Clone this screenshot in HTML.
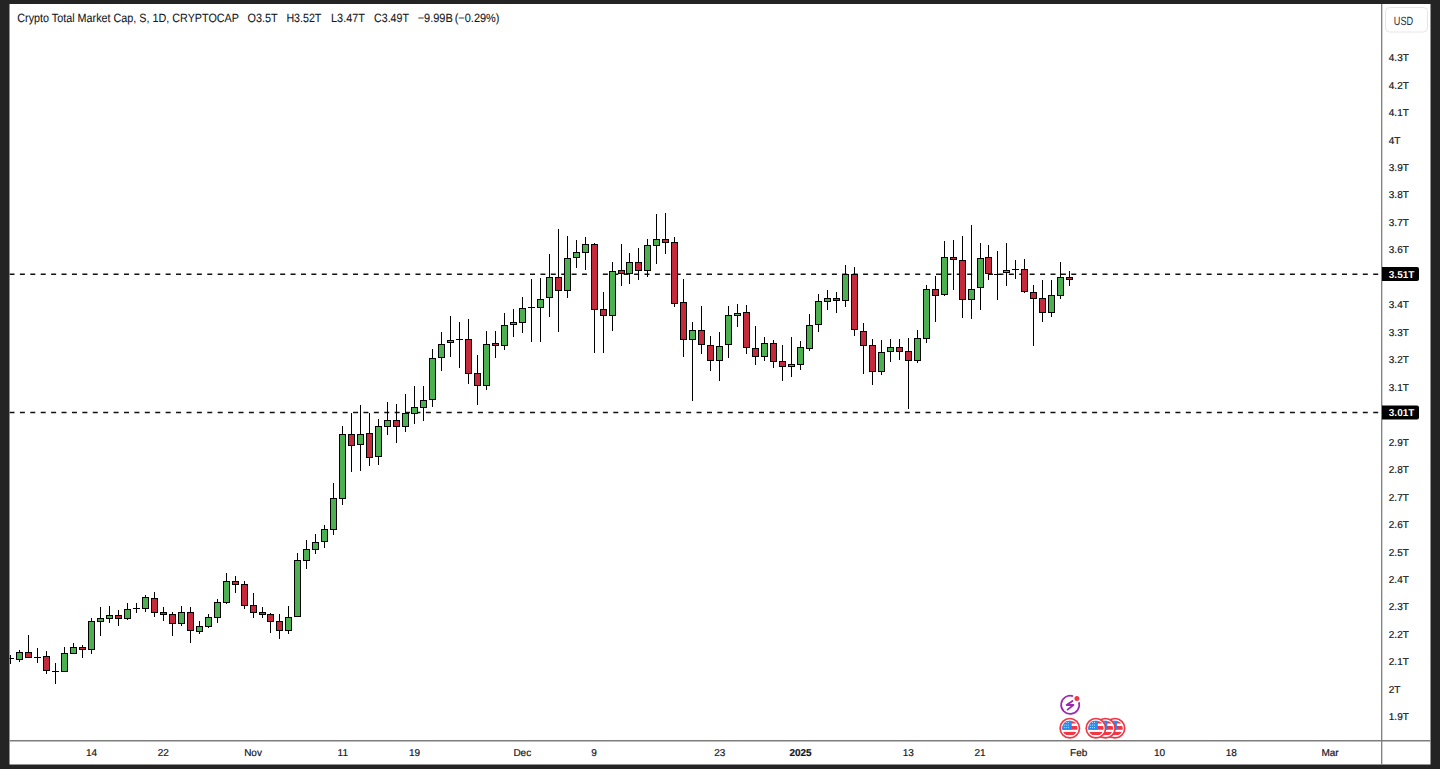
<!DOCTYPE html>
<html><head><meta charset="utf-8"><title>Crypto Total Market Cap</title>
<style>html,body{margin:0;padding:0;background:#242424;width:1440px;height:769px;overflow:hidden}svg{display:block}</style>
</head><body>
<svg width="1440" height="769" viewBox="0 0 1440 769" style="text-rendering:geometricPrecision"><rect x="0" y="0" width="1440" height="769" fill="#242424"/>
<rect x="9.5" y="4" width="1421" height="760.5" fill="#fff"/>
<clipPath id="cp"><rect x="9.5" y="4" width="1372" height="736"/></clipPath>
<g clip-path="url(#cp)">
<line x1="9.49" y1="274.25" x2="1381" y2="274.25" stroke="#111" stroke-width="1.5" stroke-dasharray="5 5.41"/>
<line x1="9.49" y1="412.5" x2="1381" y2="412.5" stroke="#111" stroke-width="1.5" stroke-dasharray="5 5.41"/>
<line x1="10.5" y1="655" x2="10.5" y2="664" stroke="#000" stroke-width="1"/>
<rect x="7.0" y="658" width="7" height="1" fill="#000"/>
<line x1="19.5" y1="650" x2="19.5" y2="662" stroke="#000" stroke-width="1"/>
<rect x="16.0" y="652" width="7" height="8" fill="#000"/>
<rect x="17.0" y="653" width="5" height="6" fill="#4caf50"/>
<line x1="28.5" y1="635" x2="28.5" y2="658" stroke="#000" stroke-width="1"/>
<rect x="25.0" y="652" width="7" height="6" fill="#000"/>
<rect x="26.0" y="653" width="5" height="4" fill="#c42a3b"/>
<line x1="37.5" y1="648" x2="37.5" y2="663" stroke="#000" stroke-width="1"/>
<rect x="34.0" y="657" width="7" height="1" fill="#000"/>
<line x1="46.5" y1="651" x2="46.5" y2="674" stroke="#000" stroke-width="1"/>
<rect x="43.0" y="656" width="7" height="15" fill="#000"/>
<rect x="44.0" y="657" width="5" height="13" fill="#c42a3b"/>
<line x1="55.5" y1="663" x2="55.5" y2="684" stroke="#000" stroke-width="1"/>
<rect x="52.0" y="671" width="7" height="1" fill="#000"/>
<line x1="64.5" y1="647" x2="64.5" y2="672" stroke="#000" stroke-width="1"/>
<rect x="61.0" y="653" width="7" height="19" fill="#000"/>
<rect x="62.0" y="654" width="5" height="17" fill="#4caf50"/>
<line x1="73.5" y1="643" x2="73.5" y2="654" stroke="#000" stroke-width="1"/>
<rect x="70.0" y="647" width="7" height="7" fill="#000"/>
<rect x="71.0" y="648" width="5" height="5" fill="#4caf50"/>
<line x1="82.5" y1="645" x2="82.5" y2="658" stroke="#000" stroke-width="1"/>
<rect x="79.0" y="647" width="7" height="3" fill="#000"/>
<rect x="80.0" y="648" width="5" height="1" fill="#c42a3b"/>
<line x1="91.5" y1="618" x2="91.5" y2="654" stroke="#000" stroke-width="1"/>
<rect x="88.0" y="621" width="7" height="29" fill="#000"/>
<rect x="89.0" y="622" width="5" height="27" fill="#4caf50"/>
<line x1="100.5" y1="607" x2="100.5" y2="636" stroke="#000" stroke-width="1"/>
<rect x="97.0" y="618" width="7" height="4" fill="#000"/>
<rect x="98.0" y="619" width="5" height="2" fill="#4caf50"/>
<line x1="109.5" y1="606" x2="109.5" y2="623" stroke="#000" stroke-width="1"/>
<rect x="106.0" y="615" width="7" height="4" fill="#000"/>
<rect x="107.0" y="616" width="5" height="2" fill="#4caf50"/>
<line x1="118.5" y1="610" x2="118.5" y2="626" stroke="#000" stroke-width="1"/>
<rect x="115.0" y="615" width="7" height="4" fill="#000"/>
<rect x="116.0" y="616" width="5" height="2" fill="#c42a3b"/>
<line x1="127.5" y1="603" x2="127.5" y2="620" stroke="#000" stroke-width="1"/>
<rect x="124.0" y="609" width="7" height="10" fill="#000"/>
<rect x="125.0" y="610" width="5" height="8" fill="#4caf50"/>
<line x1="136.5" y1="603" x2="136.5" y2="613" stroke="#000" stroke-width="1"/>
<rect x="133.0" y="608" width="7" height="1" fill="#000"/>
<line x1="145.5" y1="595" x2="145.5" y2="612" stroke="#000" stroke-width="1"/>
<rect x="142.0" y="597" width="7" height="12" fill="#000"/>
<rect x="143.0" y="598" width="5" height="10" fill="#4caf50"/>
<line x1="154.5" y1="592" x2="154.5" y2="617" stroke="#000" stroke-width="1"/>
<rect x="151.0" y="598" width="7" height="15" fill="#000"/>
<rect x="152.0" y="599" width="5" height="13" fill="#c42a3b"/>
<line x1="163.5" y1="607" x2="163.5" y2="621" stroke="#000" stroke-width="1"/>
<rect x="160.0" y="612" width="7" height="3" fill="#000"/>
<rect x="161.0" y="613" width="5" height="1" fill="#c42a3b"/>
<line x1="172.5" y1="612" x2="172.5" y2="636" stroke="#000" stroke-width="1"/>
<rect x="169.0" y="614" width="7" height="10" fill="#000"/>
<rect x="170.0" y="615" width="5" height="8" fill="#c42a3b"/>
<line x1="181.5" y1="606" x2="181.5" y2="626" stroke="#000" stroke-width="1"/>
<rect x="178.0" y="612" width="7" height="12" fill="#000"/>
<rect x="179.0" y="613" width="5" height="10" fill="#4caf50"/>
<line x1="190.5" y1="607" x2="190.5" y2="643" stroke="#000" stroke-width="1"/>
<rect x="187.0" y="612" width="7" height="19" fill="#000"/>
<rect x="188.0" y="613" width="5" height="17" fill="#c42a3b"/>
<line x1="199.5" y1="621" x2="199.5" y2="634" stroke="#000" stroke-width="1"/>
<rect x="196.0" y="626" width="7" height="6" fill="#000"/>
<rect x="197.0" y="627" width="5" height="4" fill="#4caf50"/>
<line x1="208.5" y1="614" x2="208.5" y2="628" stroke="#000" stroke-width="1"/>
<rect x="205.0" y="617" width="7" height="10" fill="#000"/>
<rect x="206.0" y="618" width="5" height="8" fill="#4caf50"/>
<line x1="217.5" y1="599" x2="217.5" y2="623" stroke="#000" stroke-width="1"/>
<rect x="214.0" y="602" width="7" height="16" fill="#000"/>
<rect x="215.0" y="603" width="5" height="14" fill="#4caf50"/>
<line x1="226.5" y1="573" x2="226.5" y2="604" stroke="#000" stroke-width="1"/>
<rect x="223.0" y="581" width="7" height="22" fill="#000"/>
<rect x="224.0" y="582" width="5" height="20" fill="#4caf50"/>
<line x1="235.5" y1="576" x2="235.5" y2="593" stroke="#000" stroke-width="1"/>
<rect x="232.0" y="581" width="7" height="4" fill="#000"/>
<rect x="233.0" y="582" width="5" height="2" fill="#c42a3b"/>
<line x1="244.5" y1="581" x2="244.5" y2="609" stroke="#000" stroke-width="1"/>
<rect x="241.0" y="584" width="7" height="22" fill="#000"/>
<rect x="242.0" y="585" width="5" height="20" fill="#c42a3b"/>
<line x1="253.5" y1="593" x2="253.5" y2="618" stroke="#000" stroke-width="1"/>
<rect x="250.0" y="605" width="7" height="8" fill="#000"/>
<rect x="251.0" y="606" width="5" height="6" fill="#c42a3b"/>
<line x1="262.5" y1="607" x2="262.5" y2="618" stroke="#000" stroke-width="1"/>
<rect x="259.0" y="612" width="7" height="3" fill="#000"/>
<rect x="260.0" y="613" width="5" height="1" fill="#c42a3b"/>
<line x1="270.5" y1="613" x2="270.5" y2="633" stroke="#000" stroke-width="1"/>
<rect x="267.0" y="614" width="7" height="8" fill="#000"/>
<rect x="268.0" y="615" width="5" height="6" fill="#c42a3b"/>
<line x1="279.5" y1="614" x2="279.5" y2="639" stroke="#000" stroke-width="1"/>
<rect x="276.0" y="621" width="7" height="10" fill="#000"/>
<rect x="277.0" y="622" width="5" height="8" fill="#c42a3b"/>
<line x1="288.5" y1="606" x2="288.5" y2="634" stroke="#000" stroke-width="1"/>
<rect x="285.0" y="617" width="7" height="14" fill="#000"/>
<rect x="286.0" y="618" width="5" height="12" fill="#4caf50"/>
<line x1="297.5" y1="553" x2="297.5" y2="617" stroke="#000" stroke-width="1"/>
<rect x="294.0" y="560" width="7" height="57" fill="#000"/>
<rect x="295.0" y="561" width="5" height="55" fill="#4caf50"/>
<line x1="306.5" y1="540" x2="306.5" y2="569" stroke="#000" stroke-width="1"/>
<rect x="303.0" y="549" width="7" height="12" fill="#000"/>
<rect x="304.0" y="550" width="5" height="10" fill="#4caf50"/>
<line x1="315.5" y1="534" x2="315.5" y2="554" stroke="#000" stroke-width="1"/>
<rect x="312.0" y="542" width="7" height="8" fill="#000"/>
<rect x="313.0" y="543" width="5" height="6" fill="#4caf50"/>
<line x1="324.5" y1="525" x2="324.5" y2="548" stroke="#000" stroke-width="1"/>
<rect x="321.0" y="529" width="7" height="13" fill="#000"/>
<rect x="322.0" y="530" width="5" height="11" fill="#4caf50"/>
<line x1="333.5" y1="483" x2="333.5" y2="535" stroke="#000" stroke-width="1"/>
<rect x="330.0" y="498" width="7" height="32" fill="#000"/>
<rect x="331.0" y="499" width="5" height="30" fill="#4caf50"/>
<line x1="342.5" y1="426" x2="342.5" y2="505" stroke="#000" stroke-width="1"/>
<rect x="339.0" y="434" width="7" height="65" fill="#000"/>
<rect x="340.0" y="435" width="5" height="63" fill="#4caf50"/>
<line x1="351.5" y1="413" x2="351.5" y2="472" stroke="#000" stroke-width="1"/>
<rect x="348.0" y="434" width="7" height="12" fill="#000"/>
<rect x="349.0" y="435" width="5" height="10" fill="#c42a3b"/>
<line x1="360.5" y1="405" x2="360.5" y2="471" stroke="#000" stroke-width="1"/>
<rect x="357.0" y="434" width="7" height="11" fill="#000"/>
<rect x="358.0" y="435" width="5" height="9" fill="#4caf50"/>
<line x1="369.5" y1="413" x2="369.5" y2="466" stroke="#000" stroke-width="1"/>
<rect x="366.0" y="433" width="7" height="25" fill="#000"/>
<rect x="367.0" y="434" width="5" height="23" fill="#c42a3b"/>
<line x1="378.5" y1="419" x2="378.5" y2="465" stroke="#000" stroke-width="1"/>
<rect x="375.0" y="426" width="7" height="31" fill="#000"/>
<rect x="376.0" y="427" width="5" height="29" fill="#4caf50"/>
<line x1="387.5" y1="402" x2="387.5" y2="435" stroke="#000" stroke-width="1"/>
<rect x="384.0" y="420" width="7" height="7" fill="#000"/>
<rect x="385.0" y="421" width="5" height="5" fill="#4caf50"/>
<line x1="396.5" y1="404" x2="396.5" y2="443" stroke="#000" stroke-width="1"/>
<rect x="393.0" y="420" width="7" height="7" fill="#000"/>
<rect x="394.0" y="421" width="5" height="5" fill="#c42a3b"/>
<line x1="405.5" y1="394" x2="405.5" y2="432" stroke="#000" stroke-width="1"/>
<rect x="402.0" y="413" width="7" height="14" fill="#000"/>
<rect x="403.0" y="414" width="5" height="12" fill="#4caf50"/>
<line x1="414.5" y1="386" x2="414.5" y2="424" stroke="#000" stroke-width="1"/>
<rect x="411.0" y="407" width="7" height="7" fill="#000"/>
<rect x="412.0" y="408" width="5" height="5" fill="#4caf50"/>
<line x1="423.5" y1="386" x2="423.5" y2="421" stroke="#000" stroke-width="1"/>
<rect x="420.0" y="400" width="7" height="8" fill="#000"/>
<rect x="421.0" y="401" width="5" height="6" fill="#4caf50"/>
<line x1="432.5" y1="349" x2="432.5" y2="407" stroke="#000" stroke-width="1"/>
<rect x="429.0" y="358" width="7" height="42" fill="#000"/>
<rect x="430.0" y="359" width="5" height="40" fill="#4caf50"/>
<line x1="441.5" y1="332" x2="441.5" y2="371" stroke="#000" stroke-width="1"/>
<rect x="438.0" y="344" width="7" height="14" fill="#000"/>
<rect x="439.0" y="345" width="5" height="12" fill="#4caf50"/>
<line x1="450.5" y1="316" x2="450.5" y2="357" stroke="#000" stroke-width="1"/>
<rect x="447.0" y="340" width="7" height="3" fill="#000"/>
<rect x="448.0" y="341" width="5" height="1" fill="#4caf50"/>
<line x1="459.5" y1="322" x2="459.5" y2="368" stroke="#000" stroke-width="1"/>
<rect x="456.0" y="339" width="7" height="1" fill="#000"/>
<line x1="468.5" y1="319" x2="468.5" y2="384" stroke="#000" stroke-width="1"/>
<rect x="465.0" y="339" width="7" height="35" fill="#000"/>
<rect x="466.0" y="340" width="5" height="33" fill="#c42a3b"/>
<line x1="477.5" y1="355" x2="477.5" y2="405" stroke="#000" stroke-width="1"/>
<rect x="474.0" y="373" width="7" height="13" fill="#000"/>
<rect x="475.0" y="374" width="5" height="11" fill="#c42a3b"/>
<line x1="486.5" y1="331" x2="486.5" y2="390" stroke="#000" stroke-width="1"/>
<rect x="483.0" y="344" width="7" height="42" fill="#000"/>
<rect x="484.0" y="345" width="5" height="40" fill="#4caf50"/>
<line x1="495.5" y1="331" x2="495.5" y2="358" stroke="#000" stroke-width="1"/>
<rect x="492.0" y="343" width="7" height="3" fill="#000"/>
<rect x="493.0" y="344" width="5" height="1" fill="#c42a3b"/>
<line x1="504.5" y1="313" x2="504.5" y2="350" stroke="#000" stroke-width="1"/>
<rect x="501.0" y="325" width="7" height="21" fill="#000"/>
<rect x="502.0" y="326" width="5" height="19" fill="#4caf50"/>
<line x1="513.5" y1="309" x2="513.5" y2="337" stroke="#000" stroke-width="1"/>
<rect x="510.0" y="322" width="7" height="3" fill="#000"/>
<rect x="511.0" y="323" width="5" height="1" fill="#4caf50"/>
<line x1="522.5" y1="297" x2="522.5" y2="333" stroke="#000" stroke-width="1"/>
<rect x="519.0" y="308" width="7" height="15" fill="#000"/>
<rect x="520.0" y="309" width="5" height="13" fill="#4caf50"/>
<line x1="531.5" y1="279" x2="531.5" y2="342" stroke="#000" stroke-width="1"/>
<rect x="528.0" y="307" width="7" height="1" fill="#000"/>
<line x1="540.5" y1="278" x2="540.5" y2="342" stroke="#000" stroke-width="1"/>
<rect x="537.0" y="299" width="7" height="9" fill="#000"/>
<rect x="538.0" y="300" width="5" height="7" fill="#4caf50"/>
<line x1="549.5" y1="254" x2="549.5" y2="317" stroke="#000" stroke-width="1"/>
<rect x="546.0" y="277" width="7" height="21" fill="#000"/>
<rect x="547.0" y="278" width="5" height="19" fill="#4caf50"/>
<line x1="558.5" y1="229" x2="558.5" y2="332" stroke="#000" stroke-width="1"/>
<rect x="555.0" y="277" width="7" height="14" fill="#000"/>
<rect x="556.0" y="278" width="5" height="12" fill="#c42a3b"/>
<line x1="567.5" y1="236" x2="567.5" y2="298" stroke="#000" stroke-width="1"/>
<rect x="564.0" y="258" width="7" height="33" fill="#000"/>
<rect x="565.0" y="259" width="5" height="31" fill="#4caf50"/>
<line x1="576.5" y1="240" x2="576.5" y2="268" stroke="#000" stroke-width="1"/>
<rect x="573.0" y="252" width="7" height="6" fill="#000"/>
<rect x="574.0" y="253" width="5" height="4" fill="#4caf50"/>
<line x1="585.5" y1="237" x2="585.5" y2="270" stroke="#000" stroke-width="1"/>
<rect x="582.0" y="244" width="7" height="9" fill="#000"/>
<rect x="583.0" y="245" width="5" height="7" fill="#4caf50"/>
<line x1="594.5" y1="243" x2="594.5" y2="353" stroke="#000" stroke-width="1"/>
<rect x="591.0" y="244" width="7" height="66" fill="#000"/>
<rect x="592.0" y="245" width="5" height="64" fill="#c42a3b"/>
<line x1="603.5" y1="292" x2="603.5" y2="353" stroke="#000" stroke-width="1"/>
<rect x="600.0" y="309" width="7" height="7" fill="#000"/>
<rect x="601.0" y="310" width="5" height="5" fill="#c42a3b"/>
<line x1="612.5" y1="262" x2="612.5" y2="331" stroke="#000" stroke-width="1"/>
<rect x="609.0" y="271" width="7" height="45" fill="#000"/>
<rect x="610.0" y="272" width="5" height="43" fill="#4caf50"/>
<line x1="621.5" y1="244" x2="621.5" y2="286" stroke="#000" stroke-width="1"/>
<rect x="618.0" y="270" width="7" height="4" fill="#000"/>
<rect x="619.0" y="271" width="5" height="2" fill="#c42a3b"/>
<line x1="629.5" y1="253" x2="629.5" y2="284" stroke="#000" stroke-width="1"/>
<rect x="626.0" y="262" width="7" height="12" fill="#000"/>
<rect x="627.0" y="263" width="5" height="10" fill="#4caf50"/>
<line x1="638.5" y1="248" x2="638.5" y2="280" stroke="#000" stroke-width="1"/>
<rect x="635.0" y="262" width="7" height="9" fill="#000"/>
<rect x="636.0" y="263" width="5" height="7" fill="#c42a3b"/>
<line x1="647.5" y1="239" x2="647.5" y2="277" stroke="#000" stroke-width="1"/>
<rect x="644.0" y="245" width="7" height="26" fill="#000"/>
<rect x="645.0" y="246" width="5" height="24" fill="#4caf50"/>
<line x1="656.5" y1="214" x2="656.5" y2="264" stroke="#000" stroke-width="1"/>
<rect x="653.0" y="239" width="7" height="7" fill="#000"/>
<rect x="654.0" y="240" width="5" height="5" fill="#4caf50"/>
<line x1="665.5" y1="213" x2="665.5" y2="254" stroke="#000" stroke-width="1"/>
<rect x="662.0" y="239" width="7" height="4" fill="#000"/>
<rect x="663.0" y="240" width="5" height="2" fill="#c42a3b"/>
<line x1="674.5" y1="237" x2="674.5" y2="307" stroke="#000" stroke-width="1"/>
<rect x="671.0" y="242" width="7" height="62" fill="#000"/>
<rect x="672.0" y="243" width="5" height="60" fill="#c42a3b"/>
<line x1="683.5" y1="279" x2="683.5" y2="357" stroke="#000" stroke-width="1"/>
<rect x="680.0" y="302" width="7" height="38" fill="#000"/>
<rect x="681.0" y="303" width="5" height="36" fill="#c42a3b"/>
<line x1="692.5" y1="322" x2="692.5" y2="401" stroke="#000" stroke-width="1"/>
<rect x="689.0" y="330" width="7" height="10" fill="#000"/>
<rect x="690.0" y="331" width="5" height="8" fill="#4caf50"/>
<line x1="701.5" y1="306" x2="701.5" y2="354" stroke="#000" stroke-width="1"/>
<rect x="698.0" y="330" width="7" height="15" fill="#000"/>
<rect x="699.0" y="331" width="5" height="13" fill="#c42a3b"/>
<line x1="710.5" y1="336" x2="710.5" y2="371" stroke="#000" stroke-width="1"/>
<rect x="707.0" y="345" width="7" height="16" fill="#000"/>
<rect x="708.0" y="346" width="5" height="14" fill="#c42a3b"/>
<line x1="719.5" y1="332" x2="719.5" y2="381" stroke="#000" stroke-width="1"/>
<rect x="716.0" y="346" width="7" height="15" fill="#000"/>
<rect x="717.0" y="347" width="5" height="13" fill="#4caf50"/>
<line x1="728.5" y1="306" x2="728.5" y2="358" stroke="#000" stroke-width="1"/>
<rect x="725.0" y="315" width="7" height="30" fill="#000"/>
<rect x="726.0" y="316" width="5" height="28" fill="#4caf50"/>
<line x1="737.5" y1="304" x2="737.5" y2="327" stroke="#000" stroke-width="1"/>
<rect x="734.0" y="313" width="7" height="3" fill="#000"/>
<rect x="735.0" y="314" width="5" height="1" fill="#4caf50"/>
<line x1="746.5" y1="305" x2="746.5" y2="354" stroke="#000" stroke-width="1"/>
<rect x="743.0" y="312" width="7" height="36" fill="#000"/>
<rect x="744.0" y="313" width="5" height="34" fill="#c42a3b"/>
<line x1="755.5" y1="326" x2="755.5" y2="365" stroke="#000" stroke-width="1"/>
<rect x="752.0" y="348" width="7" height="9" fill="#000"/>
<rect x="753.0" y="349" width="5" height="7" fill="#c42a3b"/>
<line x1="764.5" y1="337" x2="764.5" y2="361" stroke="#000" stroke-width="1"/>
<rect x="761.0" y="343" width="7" height="14" fill="#000"/>
<rect x="762.0" y="344" width="5" height="12" fill="#4caf50"/>
<line x1="773.5" y1="340" x2="773.5" y2="368" stroke="#000" stroke-width="1"/>
<rect x="770.0" y="343" width="7" height="19" fill="#000"/>
<rect x="771.0" y="344" width="5" height="17" fill="#c42a3b"/>
<line x1="782.5" y1="345" x2="782.5" y2="381" stroke="#000" stroke-width="1"/>
<rect x="779.0" y="361" width="7" height="6" fill="#000"/>
<rect x="780.0" y="362" width="5" height="4" fill="#c42a3b"/>
<line x1="791.5" y1="337" x2="791.5" y2="377" stroke="#000" stroke-width="1"/>
<rect x="788.0" y="364" width="7" height="3" fill="#000"/>
<rect x="789.0" y="365" width="5" height="1" fill="#4caf50"/>
<line x1="800.5" y1="341" x2="800.5" y2="370" stroke="#000" stroke-width="1"/>
<rect x="797.0" y="347" width="7" height="18" fill="#000"/>
<rect x="798.0" y="348" width="5" height="16" fill="#4caf50"/>
<line x1="809.5" y1="314" x2="809.5" y2="351" stroke="#000" stroke-width="1"/>
<rect x="806.0" y="325" width="7" height="24" fill="#000"/>
<rect x="807.0" y="326" width="5" height="22" fill="#4caf50"/>
<line x1="818.5" y1="294" x2="818.5" y2="332" stroke="#000" stroke-width="1"/>
<rect x="815.0" y="301" width="7" height="24" fill="#000"/>
<rect x="816.0" y="302" width="5" height="22" fill="#4caf50"/>
<line x1="827.5" y1="290" x2="827.5" y2="310" stroke="#000" stroke-width="1"/>
<rect x="824.0" y="298" width="7" height="4" fill="#000"/>
<rect x="825.0" y="299" width="5" height="2" fill="#4caf50"/>
<line x1="836.5" y1="292" x2="836.5" y2="313" stroke="#000" stroke-width="1"/>
<rect x="833.0" y="298" width="7" height="3" fill="#000"/>
<rect x="834.0" y="299" width="5" height="1" fill="#c42a3b"/>
<line x1="845.5" y1="265" x2="845.5" y2="307" stroke="#000" stroke-width="1"/>
<rect x="842.0" y="274" width="7" height="27" fill="#000"/>
<rect x="843.0" y="275" width="5" height="25" fill="#4caf50"/>
<line x1="854.5" y1="267" x2="854.5" y2="336" stroke="#000" stroke-width="1"/>
<rect x="851.0" y="274" width="7" height="56" fill="#000"/>
<rect x="852.0" y="275" width="5" height="54" fill="#c42a3b"/>
<line x1="863.5" y1="323" x2="863.5" y2="374" stroke="#000" stroke-width="1"/>
<rect x="860.0" y="331" width="7" height="15" fill="#000"/>
<rect x="861.0" y="332" width="5" height="13" fill="#c42a3b"/>
<line x1="872.5" y1="339" x2="872.5" y2="385" stroke="#000" stroke-width="1"/>
<rect x="869.0" y="345" width="7" height="27" fill="#000"/>
<rect x="870.0" y="346" width="5" height="25" fill="#c42a3b"/>
<line x1="881.5" y1="340" x2="881.5" y2="375" stroke="#000" stroke-width="1"/>
<rect x="878.0" y="352" width="7" height="20" fill="#000"/>
<rect x="879.0" y="353" width="5" height="18" fill="#4caf50"/>
<line x1="890.5" y1="339" x2="890.5" y2="362" stroke="#000" stroke-width="1"/>
<rect x="887.0" y="347" width="7" height="5" fill="#000"/>
<rect x="888.0" y="348" width="5" height="3" fill="#4caf50"/>
<line x1="899.5" y1="339" x2="899.5" y2="360" stroke="#000" stroke-width="1"/>
<rect x="896.0" y="347" width="7" height="5" fill="#000"/>
<rect x="897.0" y="348" width="5" height="3" fill="#c42a3b"/>
<line x1="908.5" y1="338" x2="908.5" y2="409" stroke="#000" stroke-width="1"/>
<rect x="905.0" y="351" width="7" height="10" fill="#000"/>
<rect x="906.0" y="352" width="5" height="8" fill="#c42a3b"/>
<line x1="917.5" y1="330" x2="917.5" y2="363" stroke="#000" stroke-width="1"/>
<rect x="914.0" y="338" width="7" height="23" fill="#000"/>
<rect x="915.0" y="339" width="5" height="21" fill="#4caf50"/>
<line x1="926.5" y1="285" x2="926.5" y2="343" stroke="#000" stroke-width="1"/>
<rect x="923.0" y="289" width="7" height="50" fill="#000"/>
<rect x="924.0" y="290" width="5" height="48" fill="#4caf50"/>
<line x1="935.5" y1="276" x2="935.5" y2="322" stroke="#000" stroke-width="1"/>
<rect x="932.0" y="289" width="7" height="7" fill="#000"/>
<rect x="933.0" y="290" width="5" height="5" fill="#c42a3b"/>
<line x1="944.5" y1="241" x2="944.5" y2="296" stroke="#000" stroke-width="1"/>
<rect x="941.0" y="257" width="7" height="38" fill="#000"/>
<rect x="942.0" y="258" width="5" height="36" fill="#4caf50"/>
<line x1="953.5" y1="240" x2="953.5" y2="290" stroke="#000" stroke-width="1"/>
<rect x="950.0" y="257" width="7" height="3" fill="#000"/>
<rect x="951.0" y="258" width="5" height="1" fill="#c42a3b"/>
<line x1="962.5" y1="236" x2="962.5" y2="318" stroke="#000" stroke-width="1"/>
<rect x="959.0" y="260" width="7" height="40" fill="#000"/>
<rect x="960.0" y="261" width="5" height="38" fill="#c42a3b"/>
<line x1="971.5" y1="225" x2="971.5" y2="319" stroke="#000" stroke-width="1"/>
<rect x="968.0" y="289" width="7" height="11" fill="#000"/>
<rect x="969.0" y="290" width="5" height="9" fill="#4caf50"/>
<line x1="980.5" y1="243" x2="980.5" y2="310" stroke="#000" stroke-width="1"/>
<rect x="977.0" y="258" width="7" height="30" fill="#000"/>
<rect x="978.0" y="259" width="5" height="28" fill="#4caf50"/>
<line x1="988.5" y1="245" x2="988.5" y2="280" stroke="#000" stroke-width="1"/>
<rect x="985.0" y="257" width="7" height="17" fill="#000"/>
<rect x="986.0" y="258" width="5" height="15" fill="#c42a3b"/>
<line x1="997.5" y1="251" x2="997.5" y2="300" stroke="#000" stroke-width="1"/>
<rect x="994.0" y="274" width="7" height="1" fill="#000"/>
<line x1="1006.5" y1="243" x2="1006.5" y2="286" stroke="#000" stroke-width="1"/>
<rect x="1003.0" y="270" width="7" height="3" fill="#000"/>
<rect x="1004.0" y="271" width="5" height="1" fill="#4caf50"/>
<line x1="1015.5" y1="260" x2="1015.5" y2="279" stroke="#000" stroke-width="1"/>
<rect x="1012.0" y="269" width="7" height="1" fill="#000"/>
<line x1="1024.5" y1="259" x2="1024.5" y2="293" stroke="#000" stroke-width="1"/>
<rect x="1021.0" y="269" width="7" height="23" fill="#000"/>
<rect x="1022.0" y="270" width="5" height="21" fill="#c42a3b"/>
<line x1="1033.5" y1="285" x2="1033.5" y2="346" stroke="#000" stroke-width="1"/>
<rect x="1030.0" y="292" width="7" height="7" fill="#000"/>
<rect x="1031.0" y="293" width="5" height="5" fill="#c42a3b"/>
<line x1="1042.5" y1="280" x2="1042.5" y2="322" stroke="#000" stroke-width="1"/>
<rect x="1039.0" y="298" width="7" height="15" fill="#000"/>
<rect x="1040.0" y="299" width="5" height="13" fill="#c42a3b"/>
<line x1="1051.5" y1="280" x2="1051.5" y2="317" stroke="#000" stroke-width="1"/>
<rect x="1048.0" y="295" width="7" height="18" fill="#000"/>
<rect x="1049.0" y="296" width="5" height="16" fill="#4caf50"/>
<line x1="1060.5" y1="262" x2="1060.5" y2="299" stroke="#000" stroke-width="1"/>
<rect x="1057.0" y="277" width="7" height="19" fill="#000"/>
<rect x="1058.0" y="278" width="5" height="17" fill="#4caf50"/>
<line x1="1069.5" y1="271" x2="1069.5" y2="286" stroke="#000" stroke-width="1"/>
<rect x="1066.0" y="277" width="7" height="3" fill="#000"/>
<rect x="1067.0" y="278" width="5" height="1" fill="#c42a3b"/>
</g>
<line x1="1381.7" y1="4" x2="1381.7" y2="764.5" stroke="#7d7d7d" stroke-width="1.3"/>
<line x1="9.5" y1="740.8" x2="1430.5" y2="740.8" stroke="#7d7d7d" stroke-width="1.6"/>
<text transform="translate(1388.8 61.10)" font-family="Liberation Sans, sans-serif" font-size="10" fill="#131722" stroke="#131722" stroke-width="0.2">4.3T</text>
<text transform="translate(1388.8 88.57)" font-family="Liberation Sans, sans-serif" font-size="10" fill="#131722" stroke="#131722" stroke-width="0.2">4.2T</text>
<text transform="translate(1388.8 116.03)" font-family="Liberation Sans, sans-serif" font-size="10" fill="#131722" stroke="#131722" stroke-width="0.2">4.1T</text>
<text transform="translate(1388.8 143.50)" font-family="Liberation Sans, sans-serif" font-size="10" fill="#131722" stroke="#131722" stroke-width="0.2">4T</text>
<text transform="translate(1388.8 170.97)" font-family="Liberation Sans, sans-serif" font-size="10" fill="#131722" stroke="#131722" stroke-width="0.2">3.9T</text>
<text transform="translate(1388.8 198.44)" font-family="Liberation Sans, sans-serif" font-size="10" fill="#131722" stroke="#131722" stroke-width="0.2">3.8T</text>
<text transform="translate(1388.8 225.90)" font-family="Liberation Sans, sans-serif" font-size="10" fill="#131722" stroke="#131722" stroke-width="0.2">3.7T</text>
<text transform="translate(1388.8 253.37)" font-family="Liberation Sans, sans-serif" font-size="10" fill="#131722" stroke="#131722" stroke-width="0.2">3.6T</text>
<text transform="translate(1388.8 308.30)" font-family="Liberation Sans, sans-serif" font-size="10" fill="#131722" stroke="#131722" stroke-width="0.2">3.4T</text>
<text transform="translate(1388.8 335.77)" font-family="Liberation Sans, sans-serif" font-size="10" fill="#131722" stroke="#131722" stroke-width="0.2">3.3T</text>
<text transform="translate(1388.8 363.24)" font-family="Liberation Sans, sans-serif" font-size="10" fill="#131722" stroke="#131722" stroke-width="0.2">3.2T</text>
<text transform="translate(1388.8 390.70)" font-family="Liberation Sans, sans-serif" font-size="10" fill="#131722" stroke="#131722" stroke-width="0.2">3.1T</text>
<text transform="translate(1388.8 445.64)" font-family="Liberation Sans, sans-serif" font-size="10" fill="#131722" stroke="#131722" stroke-width="0.2">2.9T</text>
<text transform="translate(1388.8 473.11)" font-family="Liberation Sans, sans-serif" font-size="10" fill="#131722" stroke="#131722" stroke-width="0.2">2.8T</text>
<text transform="translate(1388.8 500.57)" font-family="Liberation Sans, sans-serif" font-size="10" fill="#131722" stroke="#131722" stroke-width="0.2">2.7T</text>
<text transform="translate(1388.8 528.04)" font-family="Liberation Sans, sans-serif" font-size="10" fill="#131722" stroke="#131722" stroke-width="0.2">2.6T</text>
<text transform="translate(1388.8 555.51)" font-family="Liberation Sans, sans-serif" font-size="10" fill="#131722" stroke="#131722" stroke-width="0.2">2.5T</text>
<text transform="translate(1388.8 582.97)" font-family="Liberation Sans, sans-serif" font-size="10" fill="#131722" stroke="#131722" stroke-width="0.2">2.4T</text>
<text transform="translate(1388.8 610.44)" font-family="Liberation Sans, sans-serif" font-size="10" fill="#131722" stroke="#131722" stroke-width="0.2">2.3T</text>
<text transform="translate(1388.8 637.91)" font-family="Liberation Sans, sans-serif" font-size="10" fill="#131722" stroke="#131722" stroke-width="0.2">2.2T</text>
<text transform="translate(1388.8 665.37)" font-family="Liberation Sans, sans-serif" font-size="10" fill="#131722" stroke="#131722" stroke-width="0.2">2.1T</text>
<text transform="translate(1388.8 692.84)" font-family="Liberation Sans, sans-serif" font-size="10" fill="#131722" stroke="#131722" stroke-width="0.2">2T</text>
<text transform="translate(1388.8 720.31)" font-family="Liberation Sans, sans-serif" font-size="10" fill="#131722" stroke="#131722" stroke-width="0.2">1.9T</text>
<path d="M1382 267.10 H1417 Q1419 267.10 1419 269.10 V279.10 Q1419 281.10 1417 281.10 H1382 Z" fill="#000"/>
<text x="1388.8" y="277.70" font-family="Liberation Sans, sans-serif" font-size="10" font-weight="bold" fill="#fff">3.51T</text>
<path d="M1382 405.40 H1417 Q1419 405.40 1419 407.40 V417.40 Q1419 419.40 1417 419.40 H1382 Z" fill="#000"/>
<text x="1388.8" y="416.00" font-family="Liberation Sans, sans-serif" font-size="10" font-weight="bold" fill="#fff">3.01T</text>
<text transform="translate(91.47 756) scale(1 1)" font-family="Liberation Sans, sans-serif" font-size="10" fill="#131722" stroke="#131722" stroke-width="0.2" text-anchor="middle">14</text>
<text transform="translate(163.27 756) scale(1 1)" font-family="Liberation Sans, sans-serif" font-size="10" fill="#131722" stroke="#131722" stroke-width="0.2" text-anchor="middle">22</text>
<text transform="translate(253.02 756) scale(1 1)" font-family="Liberation Sans, sans-serif" font-size="10" fill="#131722" stroke="#131722" stroke-width="0.2" text-anchor="middle">Nov</text>
<text transform="translate(342.77 756) scale(1 1)" font-family="Liberation Sans, sans-serif" font-size="10" fill="#131722" stroke="#131722" stroke-width="0.2" text-anchor="middle">11</text>
<text transform="translate(414.57 756) scale(1 1)" font-family="Liberation Sans, sans-serif" font-size="10" fill="#131722" stroke="#131722" stroke-width="0.2" text-anchor="middle">19</text>
<text transform="translate(522.27 756) scale(1 1)" font-family="Liberation Sans, sans-serif" font-size="10" fill="#131722" stroke="#131722" stroke-width="0.2" text-anchor="middle">Dec</text>
<text transform="translate(594.08 756) scale(1 1)" font-family="Liberation Sans, sans-serif" font-size="10" fill="#131722" stroke="#131722" stroke-width="0.2" text-anchor="middle">9</text>
<text transform="translate(719.73 756) scale(1 1)" font-family="Liberation Sans, sans-serif" font-size="10" fill="#131722" stroke="#131722" stroke-width="0.2" text-anchor="middle">23</text>
<text transform="translate(800.50 756) scale(1 1)" font-family="Liberation Sans, sans-serif" font-size="10" font-weight="bold" fill="#131722" stroke="#131722" stroke-width="0.2" text-anchor="middle">2025</text>
<text transform="translate(908.20 756) scale(1 1)" font-family="Liberation Sans, sans-serif" font-size="10" fill="#131722" stroke="#131722" stroke-width="0.2" text-anchor="middle">13</text>
<text transform="translate(980.00 756) scale(1 1)" font-family="Liberation Sans, sans-serif" font-size="10" fill="#131722" stroke="#131722" stroke-width="0.2" text-anchor="middle">21</text>
<text transform="translate(1078.72 756) scale(1 1)" font-family="Liberation Sans, sans-serif" font-size="10" fill="#131722" stroke="#131722" stroke-width="0.2" text-anchor="middle">Feb</text>
<text transform="translate(1159.50 756) scale(1 1)" font-family="Liberation Sans, sans-serif" font-size="10" fill="#131722" stroke="#131722" stroke-width="0.2" text-anchor="middle">10</text>
<text transform="translate(1231.30 756) scale(1 1)" font-family="Liberation Sans, sans-serif" font-size="10" fill="#131722" stroke="#131722" stroke-width="0.2" text-anchor="middle">18</text>
<text transform="translate(1330.03 756) scale(1 1)" font-family="Liberation Sans, sans-serif" font-size="10" fill="#131722" stroke="#131722" stroke-width="0.2" text-anchor="middle">Mar</text>
<text x="17.3" y="21.8" font-family="Liberation Sans, sans-serif" font-size="12" fill="#131722" stroke="#131722" stroke-width="0.08" textLength="221.7" lengthAdjust="spacingAndGlyphs">Crypto Total Market Cap, S, 1D, CRYPTOCAP</text>
<text x="247.5" y="21.8" font-family="Liberation Sans, sans-serif" font-size="12" fill="#131722" stroke="#131722" stroke-width="0.08" textLength="30.2" lengthAdjust="spacingAndGlyphs">O3.5T</text>
<text x="286.4" y="21.8" font-family="Liberation Sans, sans-serif" font-size="12" fill="#131722" stroke="#131722" stroke-width="0.08" textLength="35.0" lengthAdjust="spacingAndGlyphs">H3.52T</text>
<text x="331" y="21.8" font-family="Liberation Sans, sans-serif" font-size="12" fill="#131722" stroke="#131722" stroke-width="0.08" textLength="34.0" lengthAdjust="spacingAndGlyphs">L3.47T</text>
<text x="374" y="21.8" font-family="Liberation Sans, sans-serif" font-size="12" fill="#131722" stroke="#131722" stroke-width="0.08" textLength="35.0" lengthAdjust="spacingAndGlyphs">C3.49T</text>
<text x="417.7" y="21.8" font-family="Liberation Sans, sans-serif" font-size="12" fill="#131722" stroke="#131722" stroke-width="0.08" textLength="35.1" lengthAdjust="spacingAndGlyphs">−9.99B</text>
<text x="454.7" y="21.8" font-family="Liberation Sans, sans-serif" font-size="12" fill="#131722" stroke="#131722" stroke-width="0.08" textLength="44.8" lengthAdjust="spacingAndGlyphs">(−0.29%)</text>
<rect x="1385.5" y="7.5" width="42" height="24.5" rx="4" fill="#fff" stroke="#e6e6e6" stroke-width="1"/>
<text x="1393.8" y="24.8" font-family="Liberation Sans, sans-serif" font-size="12" fill="#2a2e39" textLength="19.3" lengthAdjust="spacingAndGlyphs">USD</text>
<g>
<path d="M1073.0 696.15 A9.1 9.1 0 1 0 1078.95 702.3" fill="none" stroke="#9c27b0" stroke-width="1.7"/>
<path d="M1072.5 700.9 L1066.6 705.0 L1073.4 705.0 L1067.6 709.6" fill="none" stroke="#9c27b0" stroke-width="1.8" stroke-linejoin="round" stroke-linecap="round"/>
<circle cx="1076.9" cy="698.4" r="2.5" fill="#f23645"/>
<circle cx="1115.0" cy="728.2" r="9.7" fill="#fff" stroke="#f23645" stroke-width="1.7"/><clipPath id="f11150"><circle cx="1115.0" cy="728.2" r="7.7"/></clipPath><g clip-path="url(#f11150)"><rect x="1107.0" y="721.20" width="16" height="2.30" fill="#f23645"/><rect x="1107.0" y="726.00" width="16" height="3.75" fill="#f23645"/><rect x="1107.0" y="731.90" width="16" height="3.20" fill="#f23645"/><rect x="1107.0" y="720.20" width="9.95" height="9.55" fill="#2a8cf0"/><rect x="1109.05" y="721.95" width="0.9" height="0.9" fill="#dfeefe"/><rect x="1111.05" y="721.95" width="0.9" height="0.9" fill="#dfeefe"/><rect x="1113.05" y="721.95" width="0.9" height="0.9" fill="#dfeefe"/><rect x="1109.05" y="724.65" width="0.9" height="0.9" fill="#dfeefe"/><rect x="1111.05" y="724.65" width="0.9" height="0.9" fill="#dfeefe"/><rect x="1113.05" y="724.65" width="0.9" height="0.9" fill="#dfeefe"/><rect x="1109.05" y="727.15" width="0.9" height="0.9" fill="#dfeefe"/><rect x="1111.05" y="727.15" width="0.9" height="0.9" fill="#dfeefe"/><rect x="1113.05" y="727.15" width="0.9" height="0.9" fill="#dfeefe"/></g>
<circle cx="1105.4" cy="728.2" r="9.7" fill="#fff" stroke="#f23645" stroke-width="1.7"/><clipPath id="f11054"><circle cx="1105.4" cy="728.2" r="7.7"/></clipPath><g clip-path="url(#f11054)"><rect x="1097.4" y="721.20" width="16" height="2.30" fill="#f23645"/><rect x="1097.4" y="726.00" width="16" height="3.75" fill="#f23645"/><rect x="1097.4" y="731.90" width="16" height="3.20" fill="#f23645"/><rect x="1097.4" y="720.20" width="9.95" height="9.55" fill="#2a8cf0"/><rect x="1099.45" y="721.95" width="0.9" height="0.9" fill="#dfeefe"/><rect x="1101.45" y="721.95" width="0.9" height="0.9" fill="#dfeefe"/><rect x="1103.45" y="721.95" width="0.9" height="0.9" fill="#dfeefe"/><rect x="1099.45" y="724.65" width="0.9" height="0.9" fill="#dfeefe"/><rect x="1101.45" y="724.65" width="0.9" height="0.9" fill="#dfeefe"/><rect x="1103.45" y="724.65" width="0.9" height="0.9" fill="#dfeefe"/><rect x="1099.45" y="727.15" width="0.9" height="0.9" fill="#dfeefe"/><rect x="1101.45" y="727.15" width="0.9" height="0.9" fill="#dfeefe"/><rect x="1103.45" y="727.15" width="0.9" height="0.9" fill="#dfeefe"/></g>
<circle cx="1095.9" cy="728.2" r="9.7" fill="#fff" stroke="#f23645" stroke-width="1.7"/><clipPath id="f10959"><circle cx="1095.9" cy="728.2" r="7.7"/></clipPath><g clip-path="url(#f10959)"><rect x="1087.9" y="721.20" width="16" height="2.30" fill="#f23645"/><rect x="1087.9" y="726.00" width="16" height="3.75" fill="#f23645"/><rect x="1087.9" y="731.90" width="16" height="3.20" fill="#f23645"/><rect x="1087.9" y="720.20" width="9.95" height="9.55" fill="#2a8cf0"/><rect x="1089.95" y="721.95" width="0.9" height="0.9" fill="#dfeefe"/><rect x="1091.95" y="721.95" width="0.9" height="0.9" fill="#dfeefe"/><rect x="1093.95" y="721.95" width="0.9" height="0.9" fill="#dfeefe"/><rect x="1089.95" y="724.65" width="0.9" height="0.9" fill="#dfeefe"/><rect x="1091.95" y="724.65" width="0.9" height="0.9" fill="#dfeefe"/><rect x="1093.95" y="724.65" width="0.9" height="0.9" fill="#dfeefe"/><rect x="1089.95" y="727.15" width="0.9" height="0.9" fill="#dfeefe"/><rect x="1091.95" y="727.15" width="0.9" height="0.9" fill="#dfeefe"/><rect x="1093.95" y="727.15" width="0.9" height="0.9" fill="#dfeefe"/></g>
<circle cx="1069.8" cy="728.2" r="9.7" fill="#fff" stroke="#f23645" stroke-width="1.7"/><clipPath id="f10698"><circle cx="1069.8" cy="728.2" r="7.7"/></clipPath><g clip-path="url(#f10698)"><rect x="1061.8" y="721.20" width="16" height="2.30" fill="#f23645"/><rect x="1061.8" y="726.00" width="16" height="3.75" fill="#f23645"/><rect x="1061.8" y="731.90" width="16" height="3.20" fill="#f23645"/><rect x="1061.8" y="720.20" width="9.95" height="9.55" fill="#2a8cf0"/><rect x="1063.85" y="721.95" width="0.9" height="0.9" fill="#dfeefe"/><rect x="1065.85" y="721.95" width="0.9" height="0.9" fill="#dfeefe"/><rect x="1067.85" y="721.95" width="0.9" height="0.9" fill="#dfeefe"/><rect x="1063.85" y="724.65" width="0.9" height="0.9" fill="#dfeefe"/><rect x="1065.85" y="724.65" width="0.9" height="0.9" fill="#dfeefe"/><rect x="1067.85" y="724.65" width="0.9" height="0.9" fill="#dfeefe"/><rect x="1063.85" y="727.15" width="0.9" height="0.9" fill="#dfeefe"/><rect x="1065.85" y="727.15" width="0.9" height="0.9" fill="#dfeefe"/><rect x="1067.85" y="727.15" width="0.9" height="0.9" fill="#dfeefe"/></g>
</g></svg>
</body></html>
